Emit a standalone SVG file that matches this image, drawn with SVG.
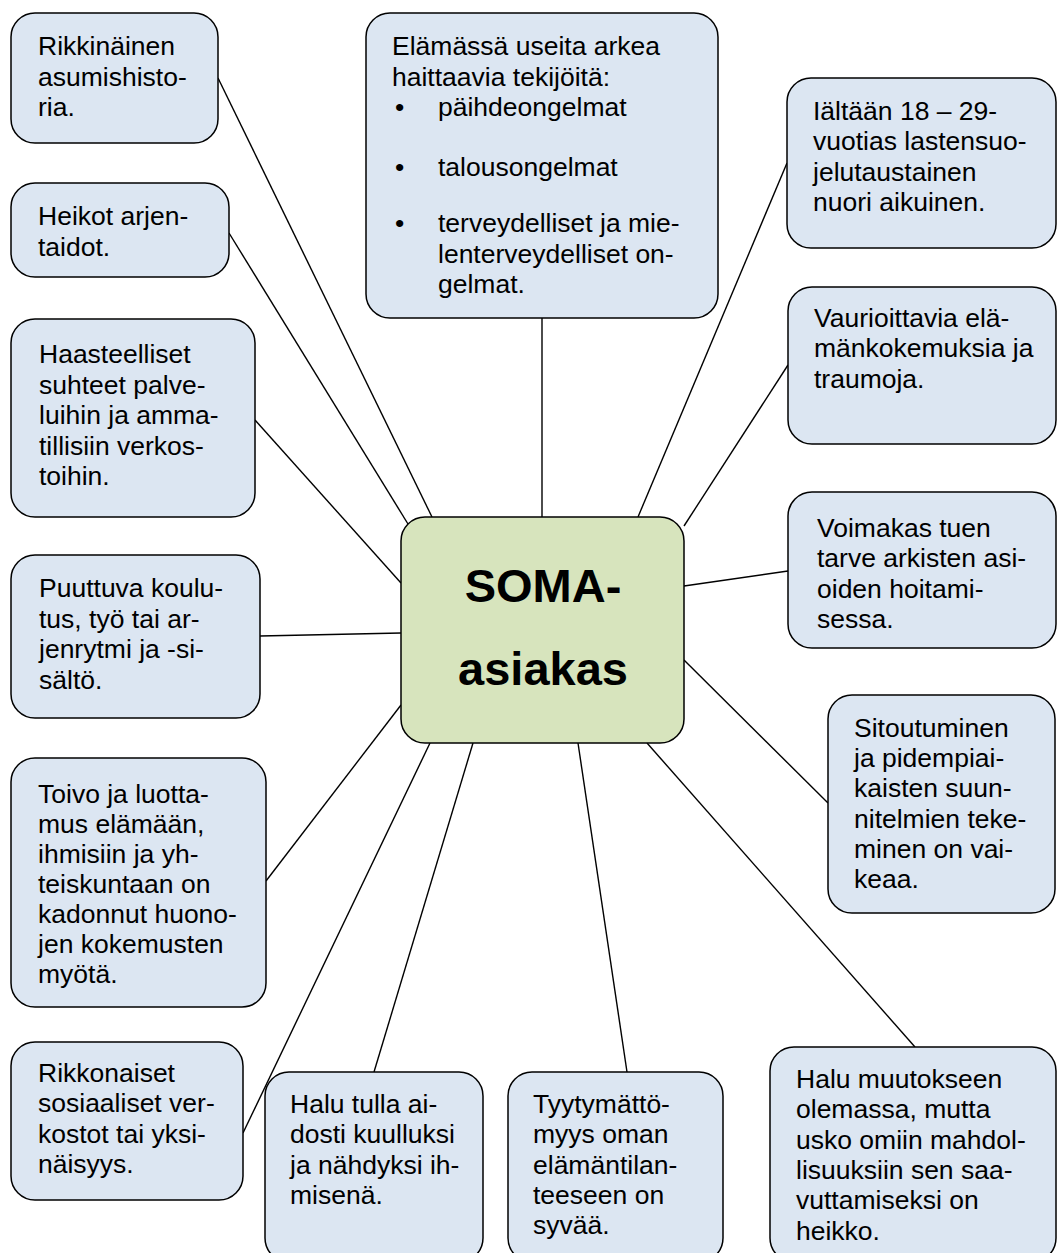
<svg xmlns="http://www.w3.org/2000/svg" width="1058" height="1253" viewBox="0 0 1058 1253">
<style>
.box{fill:#dce6f2;stroke:#000;stroke-width:1.5}
.core{fill:#d7e4bd;stroke:#000;stroke-width:1.5}
.t{font-family:"Liberation Sans",Arial,sans-serif;font-size:26.5px;fill:#000}
.c{font-family:"Liberation Sans",Arial,sans-serif;font-size:47px;font-weight:bold;fill:#000;text-anchor:middle}
#links line{stroke:#000;stroke-width:1.4}
</style>
<rect width="1058" height="1253" fill="#fff"/>
<g id="links">
<line x1="218" y1="78" x2="432" y2="517"/>
<line x1="229" y1="233" x2="408" y2="524"/>
<line x1="255" y1="420" x2="401" y2="583"/>
<line x1="260" y1="636" x2="401" y2="633"/>
<line x1="266" y1="881" x2="401" y2="705"/>
<line x1="243" y1="1133" x2="430" y2="743"/>
<line x1="374" y1="1072" x2="473" y2="743"/>
<line x1="627" y1="1072" x2="578" y2="743"/>
<line x1="915" y1="1047" x2="647" y2="743"/>
<line x1="828" y1="803" x2="684" y2="660"/>
<line x1="788" y1="571" x2="684" y2="586"/>
<line x1="788" y1="365" x2="684" y2="526"/>
<line x1="787" y1="163" x2="638" y2="517"/>
<line x1="542" y1="318" x2="542" y2="517"/>
</g>
<g id="n-rikkinainen"><rect class="box" x="11" y="13" width="207" height="130" rx="24"/>
<text class="t"><tspan x="38" y="55">Rikkinäinen</tspan><tspan x="38" y="85.5">asumishisto-</tspan><tspan x="38" y="116">ria.</tspan></text></g>
<g id="n-heikot"><rect class="box" x="11" y="183" width="218" height="94" rx="24"/>
<text class="t"><tspan x="38" y="225">Heikot arjen-</tspan><tspan x="38" y="255.5">taidot.</tspan></text></g>
<g id="n-haasteelliset"><rect class="box" x="11" y="319" width="244" height="198" rx="24"/>
<text class="t"><tspan x="39" y="363">Haasteelliset</tspan><tspan x="39" y="393.5">suhteet palve-</tspan><tspan x="39" y="424">luihin ja amma-</tspan><tspan x="39" y="454.5">tillisiin verkos-</tspan><tspan x="39" y="485">toihin.</tspan></text></g>
<g id="n-puuttuva"><rect class="box" x="11" y="555" width="249" height="163" rx="24"/>
<text class="t"><tspan x="39" y="597">Puuttuva koulu-</tspan><tspan x="39" y="627.5">tus, työ tai ar-</tspan><tspan x="39" y="658">jenrytmi ja -si-</tspan><tspan x="39" y="688.5">sältö.</tspan></text></g>
<g id="n-toivo"><rect class="box" x="11" y="758" width="255" height="249" rx="24"/>
<text class="t"><tspan x="38" y="803">Toivo ja luotta-</tspan><tspan x="38" y="833">mus elämään,</tspan><tspan x="38" y="863">ihmisiin ja yh-</tspan><tspan x="38" y="893">teiskuntaan on</tspan><tspan x="38" y="923">kadonnut huono-</tspan><tspan x="38" y="953">jen kokemusten</tspan><tspan x="38" y="983">myötä.</tspan></text></g>
<g id="n-rikkonaiset"><rect class="box" x="11" y="1042" width="232" height="158" rx="24"/>
<text class="t"><tspan x="38" y="1082">Rikkonaiset</tspan><tspan x="38" y="1112.3">sosiaaliset ver-</tspan><tspan x="38" y="1142.6">kostot tai yksi-</tspan><tspan x="38" y="1172.9">näisyys.</tspan></text></g>
<g id="n-halu-tulla"><rect class="box" x="265" y="1072" width="218" height="190" rx="24"/>
<text class="t"><tspan x="290" y="1113">Halu tulla ai-</tspan><tspan x="290" y="1143.3">dosti kuulluksi</tspan><tspan x="290" y="1173.6">ja nähdyksi ih-</tspan><tspan x="290" y="1203.9">misenä.</tspan></text></g>
<g id="n-tyytymattomyys"><rect class="box" x="508" y="1072" width="215" height="190" rx="24"/>
<text class="t"><tspan x="533" y="1113">Tyytymättö-</tspan><tspan x="533" y="1143.3">myys oman</tspan><tspan x="533" y="1173.6">elämäntilan-</tspan><tspan x="533" y="1203.9">teeseen on</tspan><tspan x="533" y="1234.2">syvää.</tspan></text></g>
<g id="n-halu-muutokseen"><rect class="box" x="770" y="1047" width="286" height="215" rx="24"/>
<text class="t"><tspan x="796" y="1088">Halu muutokseen</tspan><tspan x="796" y="1118.3">olemassa, mutta</tspan><tspan x="796" y="1148.6">usko omiin mahdol-</tspan><tspan x="796" y="1178.9">lisuuksiin sen saa-</tspan><tspan x="796" y="1209.2">vuttamiseksi on</tspan><tspan x="796" y="1239.5">heikko.</tspan></text></g>
<g id="n-sitoutuminen"><rect class="box" x="828" y="695" width="227" height="218" rx="24"/>
<text class="t"><tspan x="854" y="737">Sitoutuminen</tspan><tspan x="854" y="767.2">ja pidempiai-</tspan><tspan x="854" y="797.4">kaisten suun-</tspan><tspan x="854" y="827.6">nitelmien teke-</tspan><tspan x="854" y="857.8">minen on vai-</tspan><tspan x="854" y="888">keaa.</tspan></text></g>
<g id="n-voimakas"><rect class="box" x="788" y="492" width="268" height="156" rx="24"/>
<text class="t"><tspan x="817" y="537">Voimakas tuen</tspan><tspan x="817" y="567.3">tarve arkisten asi-</tspan><tspan x="817" y="597.6">oiden hoitami-</tspan><tspan x="817" y="627.9">sessa.</tspan></text></g>
<g id="n-vaurioittavia"><rect class="box" x="788" y="287" width="268" height="157" rx="24"/>
<text class="t"><tspan x="814" y="327">Vaurioittavia elä-</tspan><tspan x="814" y="357.3">mänkokemuksia ja</tspan><tspan x="814" y="387.6">traumoja.</tspan></text></g>
<g id="n-ika"><rect class="box" x="787" y="78" width="269" height="170" rx="24"/>
<text class="t"><tspan x="813" y="120">Iältään 18 – 29-</tspan><tspan x="813" y="150.3">vuotias lastensuo-</tspan><tspan x="813" y="180.6">jelutaustainen</tspan><tspan x="813" y="210.9">nuori aikuinen.</tspan></text></g>
<g id="n-elamassa"><rect class="box" x="366" y="13" width="352" height="305" rx="24"/>
<text class="t"><tspan x="392" y="55">Elämässä useita arkea</tspan><tspan x="392" y="85.5">haittaavia tekijöitä:</tspan></text>
<text class="t"><tspan x="395" y="116">•</tspan><tspan x="395" y="176">•</tspan><tspan x="395" y="232">•</tspan></text>
<text class="t"><tspan x="438" y="116">päihdeongelmat</tspan><tspan x="438" y="176">talousongelmat</tspan><tspan x="438" y="232">terveydelliset ja mie-</tspan><tspan x="438" y="262.5">lenterveydelliset on-</tspan><tspan x="438" y="293">gelmat.</tspan></text></g>
<g id="n-soma"><rect class="core" x="401" y="517" width="283" height="226" rx="24"/>
<text class="c"><tspan x="543" y="602">SOMA-</tspan><tspan x="543" y="685">asiakas</tspan></text></g>
</svg>
